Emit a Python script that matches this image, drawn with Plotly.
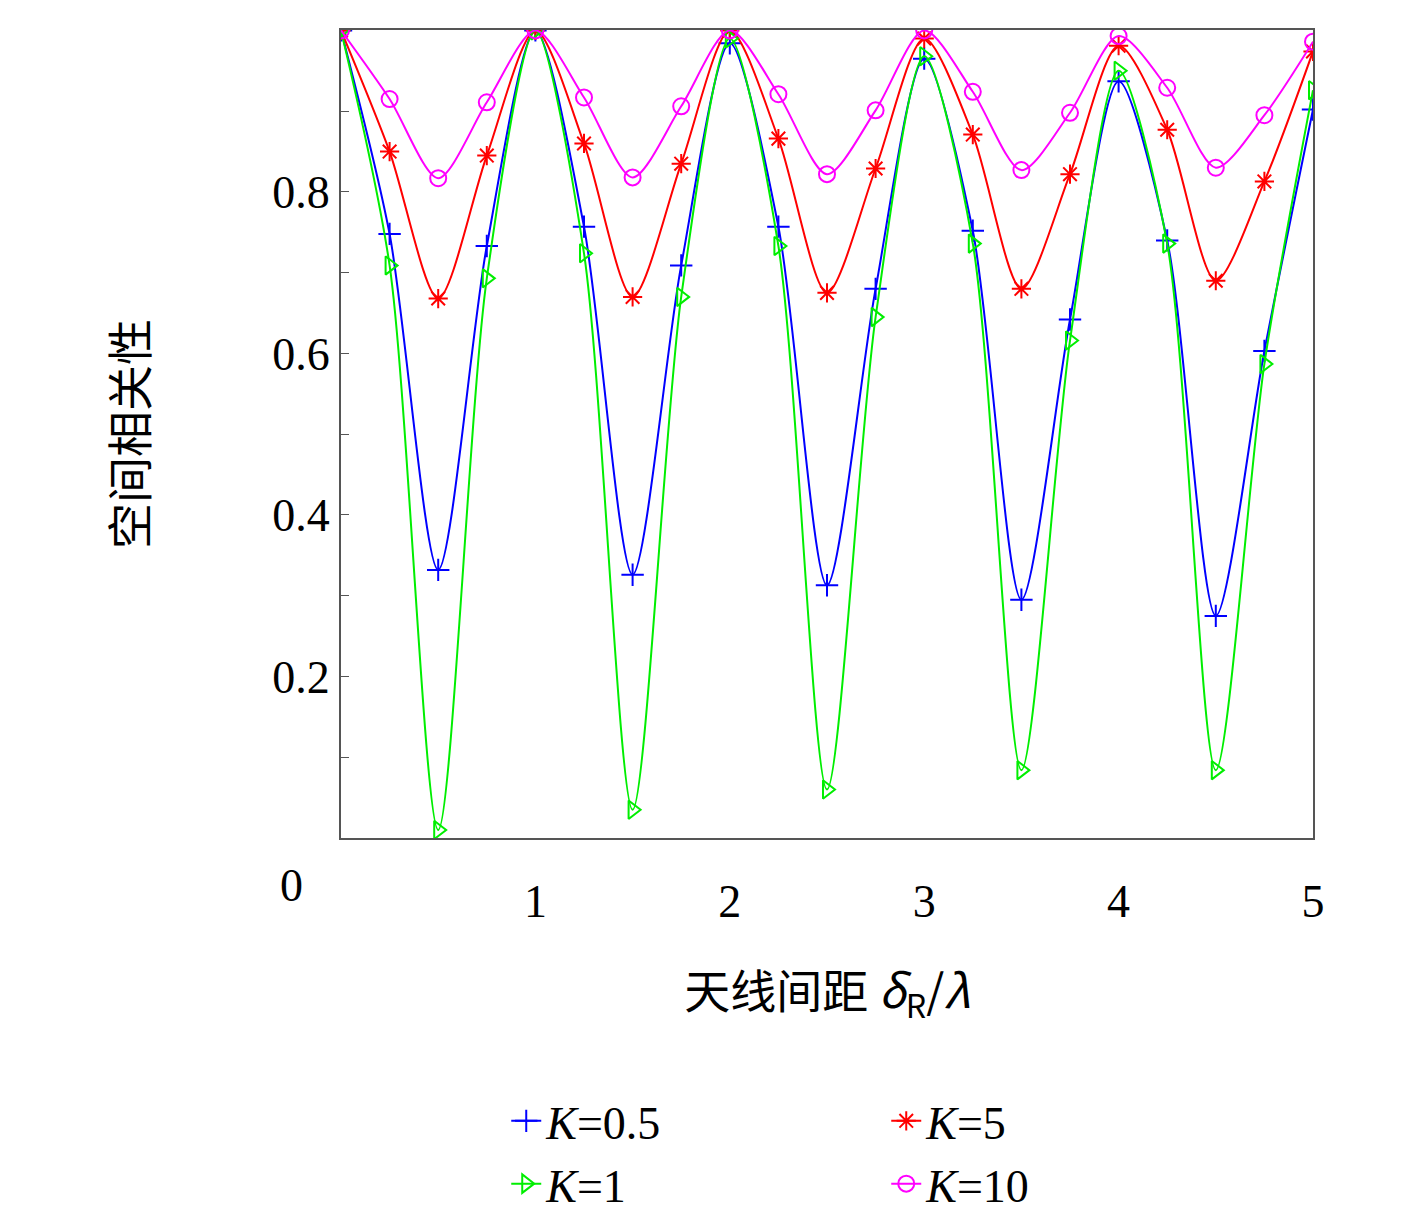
import plotly.graph_objects as go

x = [i * 0.25 for i in range(21)]
k05 = [1.0, 0.748, 0.332, 0.733, 1.0, 0.757, 0.326, 0.709, 0.984, 0.757, 0.313, 0.68, 0.965, 0.752, 0.295, 0.642, 0.937, 0.74, 0.275, 0.603, 0.902]
k1 = [1.0, 0.709, 0.01, 0.693, 1.0, 0.724, 0.035, 0.67, 0.99, 0.733, 0.06, 0.645, 0.968, 0.736, 0.084, 0.616, 0.95, 0.736, 0.084, 0.587, 0.926]
k5 = [1.0, 0.85, 0.668, 0.845, 1.0, 0.86, 0.67, 0.835, 1.0, 0.866, 0.675, 0.829, 0.99, 0.871, 0.68, 0.822, 0.981, 0.877, 0.69, 0.813, 0.974]
k10 = [1.0, 0.915, 0.817, 0.911, 1.0, 0.917, 0.818, 0.906, 1.0, 0.921, 0.822, 0.901, 1.0, 0.924, 0.827, 0.898, 0.993, 0.929, 0.83, 0.895, 0.986]

series = [
    ("<i>K</i>=0.5", k05, "#0000ff", "cross-thin"),
    ("<i>K</i>=5", k5, "#ff0000", "asterisk"),
    ("<i>K</i>=1", k1, "#00ee00", "triangle-right-open"),
    ("<i>K</i>=10", k10, "#ff00ff", "circle-open"),
]

fig = go.Figure()
for name, y, c, sym in series:
    fig.add_trace(go.Scatter(
        x=x, y=y, name=name, mode="lines+markers",
        line=dict(color=c, width=2, shape="spline", smoothing=0.8),
        marker=dict(symbol=sym, size=16, color=c, line=dict(color=c, width=2)),
    ))

font = "Liberation Serif"
yt = [round(0.1 * i, 1) for i in range(1, 11)]
ytext = ["" if i % 2 else f"{v:.1f}" for i, v in zip(range(1, 11), yt)]
fig.update_layout(
    width=1417, height=1224, paper_bgcolor="white", plot_bgcolor="white",
    margin=dict(l=333, r=112, t=22, b=394),
    font=dict(family=font, size=46, color="black"),
    xaxis=dict(range=[0, 5], tickvals=[1, 2, 3, 4, 5], ticks="", showgrid=False, automargin=False,
               zeroline=False, showline=True, mirror=True, linecolor="#555", linewidth=2,
               tickfont=dict(size=46), ticklabelstandoff=22,
               title=dict(text="天线间距 <i>δ</i><sub>R</sub>/<i>λ</i>", font=dict(size=46, family="Noto Sans CJK SC"), standoff=50)),
    yaxis=dict(range=[0, 1.0005], tickvals=yt, ticktext=ytext, ticks="inside", ticklen=8, automargin=False,
               tickcolor="#555", showgrid=False, zeroline=False, showline=True, mirror=True,
               linecolor="#555", linewidth=2, tickfont=dict(size=46),
               title=dict(text="空间相关性", font=dict(size=46, family="Noto Sans CJK SC"), standoff=110)),
    legend=dict(orientation="h", x=0.17, y=-0.305, yanchor="top", xanchor="left",
                entrywidth=335, entrywidthmode="pixels", font=dict(size=46),
                bgcolor="rgba(0,0,0,0)"),
    showlegend=True,
)
fig.add_annotation(xref="paper", yref="paper", x=(270 - 333) / 972, y=-(905 - 830) / 808,
                   text="0", showarrow=False, font=dict(size=46))
fig.write_html("out.html")
